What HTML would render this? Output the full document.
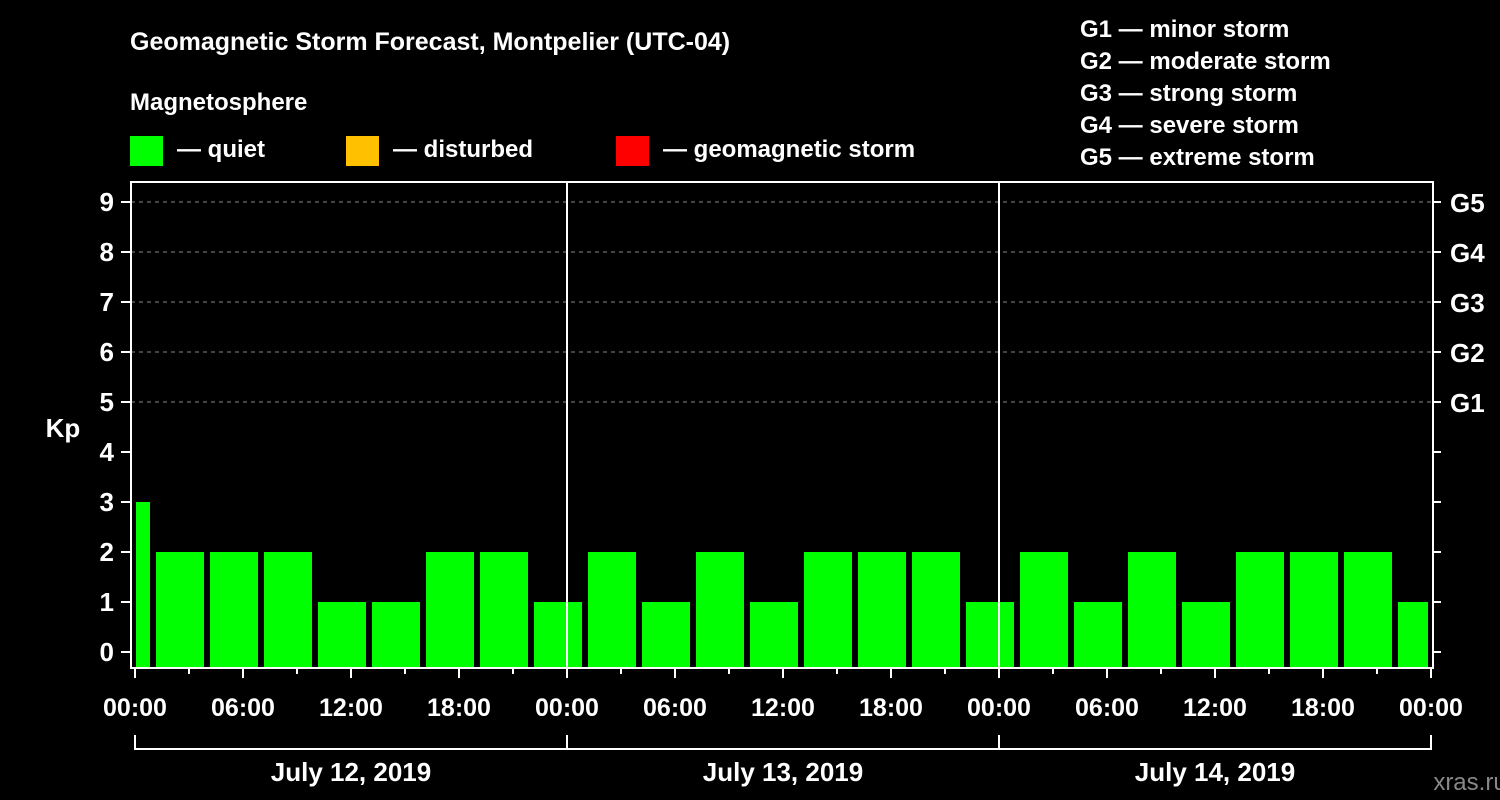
<!DOCTYPE html>
<html><head><meta charset="utf-8"><style>
html,body{margin:0;padding:0;background:#000;}
svg{display:block;font-family:"Liberation Sans",Arial,sans-serif;font-weight:bold;}
</style></head><body>
<svg id="c" width="1500" height="800" viewBox="0 0 1500 800">
<text x="130" y="50" fill="#fff" font-size="25">Geomagnetic Storm Forecast, Montpelier (UTC-04)</text>
<text x="130" y="110" fill="#fff" font-size="24">Magnetosphere</text>
<g><rect x="130" y="136" width="33" height="30" fill="#00ff00"/><text x="177" y="157" fill="#fff" font-size="24">— quiet</text></g>
<g><rect x="346" y="136" width="33" height="30" fill="#ffc000"/><text x="393" y="157" fill="#fff" font-size="24">— disturbed</text></g>
<g><rect x="616" y="136" width="33" height="30" fill="#ff0000"/><text x="663" y="157" fill="#fff" font-size="24">— geomagnetic storm</text></g>
<g fill="#fff" font-size="24">
<text x="1080" y="37">G1 — minor storm</text>
<text x="1080" y="69">G2 — moderate storm</text>
<text x="1080" y="101">G3 — strong storm</text>
<text x="1080" y="133">G4 — severe storm</text>
<text x="1080" y="165">G5 — extreme storm</text>
</g>
<text x="63" y="437" fill="#fff" font-size="26" text-anchor="middle">Kp</text>
<text x="1470" y="790" fill="#888" font-size="24" font-weight="normal" text-anchor="middle">xras.ru</text>
<g id="grid"></g><g id="bars"></g><g id="axes"></g>
</svg>
<script>
const kpValues=[3,2,2,2,1,1,2,2,1,2,1,2,1,2,2,2,1,2,1,2,1,2,2,2,1];
const yTicks=[0,1,2,3,4,5,6,7,8,9];
const gLabels=["G1","G2","G3","G4","G5"];
const gLevels=[5,6,7,8,9];
const xTickLabels=["00:00","06:00","12:00","18:00","00:00","06:00","12:00","18:00","00:00","06:00","12:00","18:00","00:00"];
const dateLabels=["July 12, 2019","July 13, 2019","July 14, 2019"];
const binStartHour=-2, binHours=3, totalHours=72;
const NS="http://www.w3.org/2000/svg";
const X0=135,PX_H=18,Y0=652,PX_K=50,TOP=182,BOT=668,L=131,R=1433;
const x=h=>X0+h*PX_H, y=k=>Y0-k*PX_K;
function mk(p,t,a){const e=document.createElementNS(NS,t);for(const k in a)e.setAttribute(k,a[k]);p.appendChild(e);return e;}
const grid=document.getElementById('grid'),bars=document.getElementById('bars'),axes=document.getElementById('axes');
gLevels.forEach(v=>{const l=mk(grid,'line',{x1:L,x2:R,y1:y(v),y2:y(v),stroke:'#888','stroke-dasharray':'4 4','stroke-width':1});

});
kpValues.forEach((v,i)=>{let h0=binStartHour+i*binHours,h1=h0+binHours;
let a=Math.max(x(h0)+3,x(0)+1),b=Math.min(x(h1)-3,x(totalHours)-3);
const r=mk(bars,'rect',{x:a,y:y(v),width:b-a,height:BOT-1-y(v),fill:'#00ff00'});

});
mk(axes,'rect',{x:L,y:TOP,width:R-L,height:BOT-TOP,fill:'none',stroke:'#fff','stroke-width':2});
[24,48].forEach(h=>mk(axes,'line',{x1:x(h),x2:x(h),y1:TOP,y2:BOT,stroke:'#fff','stroke-width':2}));
yTicks.forEach(v=>{mk(axes,'line',{x1:121,x2:L,y1:y(v),y2:y(v),stroke:'#fff','stroke-width':2});
mk(axes,'line',{x1:R,x2:1441,y1:y(v),y2:y(v),stroke:'#fff','stroke-width':2});
const t=mk(axes,'text',{x:114,y:y(v)+9,fill:'#fff','font-size':26,'text-anchor':'end'});t.textContent=v;

});
gLabels.forEach((g,i)=>{const t=mk(axes,'text',{x:1450,y:y(gLevels[i])+10,fill:'#fff','font-size':26});t.textContent=g;

});
for(let h=0;h<=totalHours;h+=3){const major=h%6===0;
mk(axes,'line',{x1:x(h),x2:x(h),y1:BOT,y2:BOT+(major?10:6),stroke:'#fff','stroke-width':2});}
xTickLabels.forEach((s,i)=>{const t=mk(axes,'text',{x:x(i*6),y:716,fill:'#fff','font-size':25,'text-anchor':'middle'});t.textContent=s;

});
mk(axes,'line',{x1:x(0),x2:x(72),y1:749,y2:749,stroke:'#fff','stroke-width':2});
[0,24,48,72].forEach(h=>mk(axes,'line',{x1:x(h),x2:x(h),y1:735,y2:750,stroke:'#fff','stroke-width':2}));
dateLabels.forEach((s,i)=>{const t=mk(axes,'text',{x:x(i*24+12),y:781,fill:'#fff','font-size':26,'text-anchor':'middle'});t.textContent=s;

});
</script>
</body></html>
